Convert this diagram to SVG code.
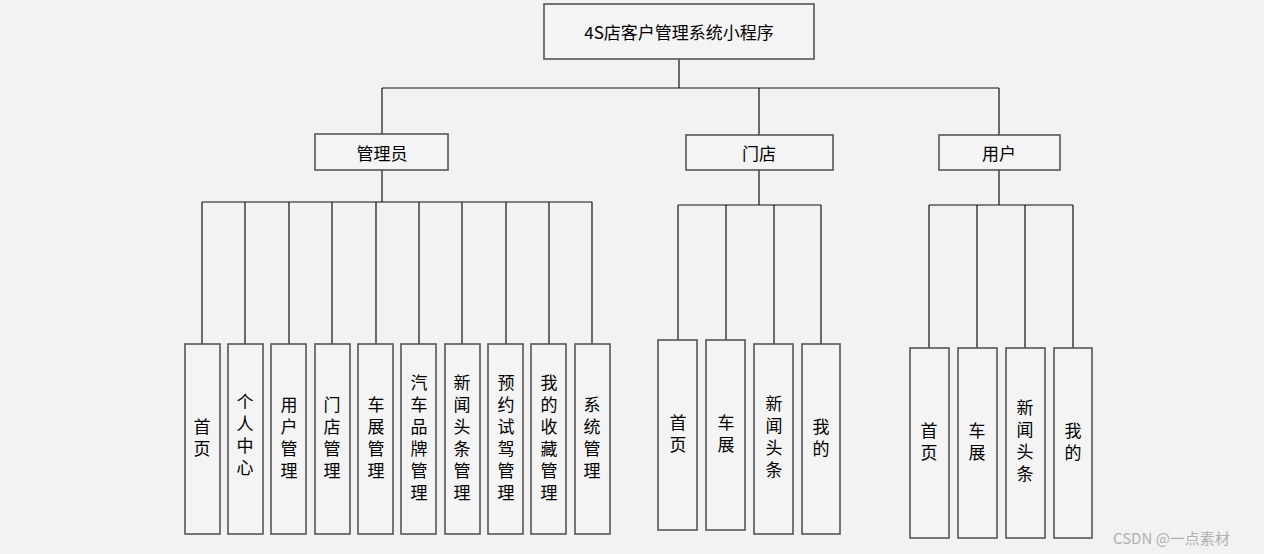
<svg xmlns="http://www.w3.org/2000/svg" width="1264" height="554" viewBox="0 0 1264 554">
<style>
.bg{fill:#f2f2f2}
.box{fill:#f4f4f4;stroke:#555;stroke-width:1.6}
.ln{stroke:#111;stroke-width:1.2;fill:none}
text{font-family:"Noto Sans CJK SC","Microsoft YaHei",sans-serif;font-size:17px;fill:#000;text-anchor:middle;dominant-baseline:central}
.v{writing-mode:vertical-rl;letter-spacing:5px}
.wm{font-family:"Noto Sans CJK SC",sans-serif;font-size:15px;fill:#b0b0b0;text-anchor:start}
</style>
<rect class="bg" x="0" y="0" width="1264" height="554"/>
<g id="connectors">
<path class="ln" d="M679 59V88M382 88H999M382 88V134M759 88V135M999 88V135"/>
<path class="ln" d="M382 170V202M202 202H592M202 202V344M245 202V344M289 202V344M332 202V344M376 202V344M419 202V344M462 202V344M506 202V344M549 202V344M592 202V344"/>
<path class="ln" d="M759 170V205M678 205H821M678 205V340M726 205V340M774 205V344M821 205V344"/>
<path class="ln" d="M999 170V205M929 205H1073M929 205V348M977 205V348M1025 205V348M1073 205V348"/>
</g>
<g id="root"><rect class="box" x="544" y="4" width="270" height="55"/><text x="679" y="31">4S店客户管理系统小程序</text></g>
<g id="admin"><rect class="box" x="315" y="134" width="133" height="36"/><text x="382" y="152">管理员</text></g>
<g id="store"><rect class="box" x="686" y="135" width="147" height="35"/><text x="759" y="152">门店</text></g>
<g id="user"><rect class="box" x="939" y="135" width="121" height="35"/><text x="999" y="152">用户</text></g>

<g id="a1"><rect class="box" x="185" y="344" width="35" height="190"/><text class="v" x="202" y="440">首页</text></g>
<g id="a2"><rect class="box" x="228" y="344" width="35" height="190"/><text class="v" x="245" y="437">个人中心</text></g>
<g id="a3"><rect class="box" x="271" y="344" width="35" height="190"/><text class="v" x="289" y="440">用户管理</text></g>
<g id="a4"><rect class="box" x="315" y="344" width="35" height="190"/><text class="v" x="332" y="440">门店管理</text></g>
<g id="a5"><rect class="box" x="358" y="344" width="35" height="190"/><text class="v" x="376" y="440">车展管理</text></g>
<g id="a6"><rect class="box" x="401" y="344" width="35" height="190"/><text class="v" x="419" y="440">汽车品牌管理</text></g>
<g id="a7"><rect class="box" x="445" y="344" width="35" height="190"/><text class="v" x="462" y="440">新闻头条管理</text></g>
<g id="a8"><rect class="box" x="488" y="344" width="35" height="190"/><text class="v" x="506" y="440">预约试驾管理</text></g>
<g id="a9"><rect class="box" x="531" y="344" width="35" height="190"/><text class="v" x="549" y="440">我的收藏管理</text></g>
<g id="a10"><rect class="box" x="575" y="344" width="35" height="190"/><text class="v" x="592" y="440">系统管理</text></g>

<g id="s1"><rect class="box" x="658" y="340" width="39" height="190"/><text class="v" x="678" y="436">首页</text></g>
<g id="s2"><rect class="box" x="706" y="340" width="39" height="190"/><text class="v" x="726" y="436">车展</text></g>
<g id="s3"><rect class="box" x="754" y="344" width="39" height="190"/><text class="v" x="774" y="439">新闻头条</text></g>
<g id="s4"><rect class="box" x="802" y="344" width="38" height="190"/><text class="v" x="821" y="440">我的</text></g>

<g id="u1"><rect class="box" x="910" y="348" width="39" height="190"/><text class="v" x="929" y="444">首页</text></g>
<g id="u2"><rect class="box" x="958" y="348" width="39" height="190"/><text class="v" x="977" y="444">车展</text></g>
<g id="u3"><rect class="box" x="1006" y="348" width="39" height="190"/><text class="v" x="1025" y="443">新闻头条</text></g>
<g id="u4"><rect class="box" x="1054" y="348" width="38" height="190"/><text class="v" x="1073" y="444">我的</text></g>

<text class="wm" x="1113" y="537">CSDN @一点素材</text>
</svg>
